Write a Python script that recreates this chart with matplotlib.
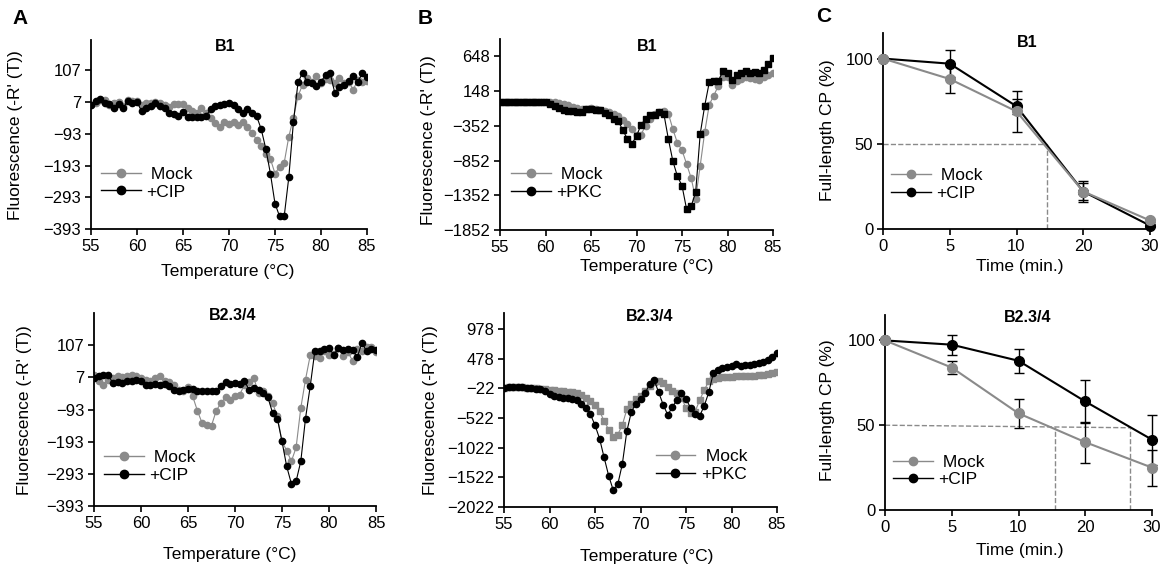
import matplotlib
matplotlib.use('Agg')
import matplotlib.pyplot as plt
from matplotlib.lines import Line2D
import numpy as np

plt.rcParams['font.family'] = ['Liberation Sans', 'DejaVu Sans']

# temperature grid of the melt curves (deg C)
temps = np.arange(55, 85.01, 0.5)

# Panel A, B1 : Mock vs +CIP
a1_mock = [-3, 5, 15, 13, -3, 5, 7, -5, 15, 10, 10, -3, 5, 3, 7, 5, -3, -8, 0, 2,
           2, -11, -21, -26, -13, -26, -42, -60, -71, -57, -62, -57, -64, -57, -71, -90, -111, -132, -155, -172,
           -218, -197, -184, -102, -42, 26, 62, 83, 72, 88, 67, 80, 78, 67, 83, 67, 72, 46, 77, 72, 75]
a1_cip = [-3, 10, 18, 5, 0, -11, 0, -11, 10, 5, 7, -21, -11, -5, 5, -5, -11, -26, -31, -36,
          -24, -40, -40, -40, -40, -36, -16, -5, -3, 0, 5, -3, -16, -26, -14, -26, -37, -78, -140, -218,
          -313, -353, -353, -230, -57, 69, 100, 72, 67, 57, 72, 93, 98, 36, 55, 62, 75, 90, 72, 98, 85]

# Panel A, B2.3/4 : Mock vs +CIP
a2_mock = [15, -5, -18, 0, 5, 10, 7, 10, 15, 10, 5, 0, -3, 5, 10, -5, -7, -16, -31, -34,
           -24, -52, -97, -135, -142, -143, -97, -73, -55, -62, -52, -47, -16, -7, 5, -42, -37, -52, -73, -114,
           -192, -221, -254, -211, -88, 0, 75, 72, 67, 90, 77, 80, 98, 72, 86, 59, 96, 90, 100, 100, 86]
a2_cip = [5, 10, 15, 15, -11, -7, -11, -3, -3, 0, -5, -16, -16, -14, -16, -14, -21, -31, -36, -31,
          -28, -28, -36, -36, -34, -34, -34, -21, -7, -14, -11, -14, -5, -31, -26, -31, -42, -55, -104, -121,
          -192, -270, -324, -316, -254, -121, -21, 90, 90, 96, 98, 77, 98, 93, 96, 93, 69, 114, 88, 95, 92]

# Panel B, B1 : Mock vs +PKC
b1_mock = [-10, -10, -8, -8, -5, -8, -5, -8, -10, -10, -10, -10, -12, -20, -40, -55, -80, -100, -110, -110,
           -100, -110, -120, -135, -150, -180, -203, -261, -318, -400, -490, -477, -347, -251, -174, -155, -140, -174, -400, -600,
           -700, -900, -1100, -1400, -925, -439, -44, 85, 230, 355, 355, 244, 292, 326, 355, 340, 326, 307, 355, 380, 403]
b1_pkc = [-10, -10, -8, -8, -5, -8, -5, -8, -10, -10, -10, -30, -60, -92, -117, -140, -140, -155, -150, -110,
          -107, -117, -130, -160, -200, -250, -285, -415, -540, -607, -501, -333, -251, -189, -189, -150, -174, -540, -862, -1079,
          -1213, -1550, -1511, -1309, -468, -59, 278, 292, 300, 437, 412, 307, 380, 412, 437, 412, 422, 412, 460, 533, 629]

# Panel B, B2.3/4 : Mock vs +PKC
b2_mock = [-16, -5, 0, 0, 0, -10, -15, -22, -30, -40, -45, -50, -62, -73, -79, -90, -107, -130, -187, -232,
           -306, -402, -573, -715, -846, -800, -641, -374, -277, -204, -147, -62, 23, 80, 97, 63, 6, -62, -107, -187,
           -346, -431, -414, -221, -50, 97, 137, 154, 165, 170, 175, 180, 185, 185, 190, 195, 200, 210, 220, 235, 250]
b2_pkc = [-16, -5, 0, 0, 0, -10, -15, -25, -35, -60, -119, -147, -164, -187, -187, -204, -221, -278, -346, -459,
          -641, -868, -1186, -1493, -1737, -1641, -1300, -743, -414, -277, -204, -107, 52, 120, -90, -300, -471, -334, -221, -107,
          -204, -346, -459, -488, -317, -90, 234, 290, 320, 336, 364, 393, 364, 381, 381, 393, 400, 421, 449, 506, 574]

# Panel C : degradation time course
time_labels = ['0', '5', '10', '20', '30']
c1_mock = [100, 88, 69, 22, 5]
c1_mock_err = [0, 8, 11.8, 5, 1]
c1_cip = [100, 97, 72, 22, 2]
c1_cip_err = [0, 8, 4.5, 6, 1]
c2_mock = [100, 84, 57, 40, 25]
c2_mock_err = [0, 4, 8.6, 12, 10.6]
c2_cip = [100, 97.5, 88, 64, 41.5]
c2_cip_err = [0, 6, 7.2, 12.5, 14.7]

GRAY = '#8a8a8a'
W, H = 1165, 570

fig = plt.figure(figsize=(W / 100, H / 100), dpi=100)


def add_ax(x0, x1, y0, y1):
    # pixel box -> figure axes
    return fig.add_axes([x0 / W, 1 - y1 / H, (x1 - x0) / W, (y1 - y0) / H])


def style(ax):
    for s in ['top', 'right']:
        ax.spines[s].set_visible(False)
    for s in ['left', 'bottom']:
        ax.spines[s].set_linewidth(1.3)
    ax.tick_params(direction='out', length=4, width=1.2, labelsize=12, pad=3)


def legend(ax, labels, x, y, loc='upper left'):
    handles = [Line2D([], [], color=GRAY, marker='o', ms=6, lw=1),
               Line2D([], [], color='black', marker='o', ms=6, lw=1)]
    ax.legend(handles, labels, loc=loc, bbox_to_anchor=(x, y), frameon=False,
              fontsize=12.5, handlelength=2.3, handletextpad=0.3, labelspacing=0.15,
              borderpad=0, borderaxespad=0)


def ftext(x, y, s, **kw):
    fig.text(x / W, 1 - y / H, s, ha='center', va='center', **kw)


def melt(ax, mock, treat, ylim, yticks, title, tpos, mock_m='o', treat_m='o', ms=4.5):
    ax.plot(temps, mock, color=GRAY, marker=mock_m, ms=ms, lw=0.8, mec=GRAY, mfc=GRAY)
    ax.plot(temps, treat, color='black', marker=treat_m, ms=ms, lw=0.8)
    ax.set_xlim(55, 85)
    ax.set_ylim(*ylim)
    ax.set_xticks(range(55, 86, 5))
    ax.set_yticks(yticks)
    style(ax)
    ax.text(tpos[0], tpos[1], title, transform=ax.transAxes, ha='center', va='center',
            fontsize=11.5, fontweight='bold')


# ---- Panel A ----
ax = add_ax(91, 367, 40, 229)
melt(ax, a1_mock, a1_cip, (-393, 203), range(-393, 108, 100), 'B1', (0.486, 0.963))
legend(ax, [' Mock', '+CIP'], 0.035, 0.33)
ftext(16, 135, "Fluorescence (-R' (T))", fontsize=12.5, rotation=90)
ftext(228, 272, 'Temperature (°C)', fontsize=12.5)

ax = add_ax(94, 376, 313, 506)
melt(ax, a2_mock, a2_cip, (-393, 207), range(-393, 108, 100), 'B2.3/4', (0.49, 0.985))
legend(ax, [' Mock', '+CIP'], 0.035, 0.29)
ftext(25, 410, "Fluorescence (-R' (T))", fontsize=12.5, rotation=90)
ftext(230, 555, 'Temperature (°C)', fontsize=12.5)

# ---- Panel B ----
ax = add_ax(500, 773, 39, 230)
melt(ax, b1_mock, b1_pkc, (-1852, 900), range(-1852, 649, 500), 'B1', (0.54, 0.963), treat_m='s')
legend(ax, [' Mock', '+PKC'], 0.04, 0.33)
ftext(428, 140, "Fluorescence (-R' (T))", fontsize=12.5, rotation=90)
ftext(647, 267, 'Temperature (°C)', fontsize=12.5)

ax = add_ax(504, 777, 313, 507)
melt(ax, b2_mock, b2_pkc, (-2022, 1250), range(-2022, 979, 500), 'B2.3/4', (0.535, 0.98), mock_m='s')
legend(ax, [' Mock', '+PKC'], 0.555, 0.3)
ftext(430, 410, "Fluorescence (-R' (T))", fontsize=12.5, rotation=90)
ftext(647, 557, 'Temperature (°C)', fontsize=12.5)


# ---- Panel C ----
def decay(ax, mock, mock_err, cip, cip_err, title, tpos):
    xs = np.arange(len(time_labels))
    ax.errorbar(xs, mock, yerr=mock_err, color=GRAY, marker='o', ms=7, lw=1.5,
                ecolor='black', elinewidth=1, capsize=3.5, clip_on=False, zorder=3)
    ax.errorbar(xs, cip, yerr=cip_err, color='black', marker='o', ms=7, lw=1.5,
                ecolor='black', elinewidth=1, capsize=3.5, clip_on=False, zorder=2)
    ax.set_xlim(0, 4)
    ax.set_ylim(0, 115)
    ax.set_xticks(xs)
    ax.set_xticklabels(time_labels)
    ax.set_yticks([0, 50, 100])
    style(ax)
    ax.text(tpos[0], tpos[1], title, transform=ax.transAxes, ha='center', va='center',
            fontsize=11.5, fontweight='bold')


ax = add_ax(883, 1150, 33, 229)
decay(ax, c1_mock, c1_mock_err, c1_cip, c1_cip_err, 'B1', (0.54, 0.95))
ax.plot([0, 2.45], [50, 50], color=GRAY, ls='--', lw=1, zorder=1)
ax.plot([2.45, 2.45], [0, 50], color=GRAY, ls='--', lw=1, zorder=1)
legend(ax, [' Mock', '+CIP'], 0.03, 0.31)
ftext(828, 130, 'Full-length CP (%)', fontsize=12.5, rotation=90)
ftext(1020, 267, 'Time (min.)', fontsize=12.5)

ax = add_ax(885, 1152, 315, 510)
decay(ax, c2_mock, c2_mock_err, c2_cip, c2_cip_err, 'B2.3/4', (0.535, 0.985))
ax.plot([0, 3.675], [50, 48.5], color=GRAY, ls='--', lw=1, zorder=1)
ax.plot([2.54, 2.54], [0, 48.8], color=GRAY, ls='--', lw=1, zorder=1)
ax.plot([3.675, 3.675], [0, 48.5], color=GRAY, ls='--', lw=1, zorder=1)
legend(ax, [' Mock', '+CIP'], 0.03, 0.285)
ftext(828, 410, 'Full-length CP (%)', fontsize=12.5, rotation=90)
ftext(1020, 550, 'Time (min.)', fontsize=12.5)

# panel letters
ftext(20, 18, 'A', fontsize=15, fontweight='bold')
ftext(425, 18, 'B', fontsize=15, fontweight='bold')
ftext(824, 17, 'C', fontsize=15, fontweight='bold')

fig.savefig('out.png', dpi=100)
